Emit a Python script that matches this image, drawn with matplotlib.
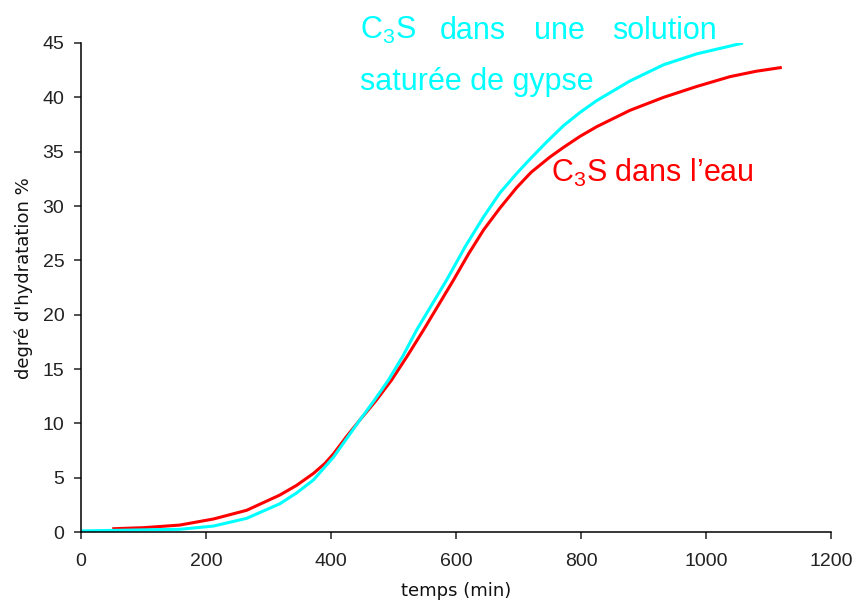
import matplotlib
matplotlib.use('Agg')
import matplotlib.pyplot as plt

plt.rcParams['font.family'] = ['Liberation Sans', 'DejaVu Sans']
plt.rcParams['mathtext.fontset'] = 'custom'
plt.rcParams['mathtext.rm'] = 'Liberation Sans'
plt.rcParams['mathtext.default'] = 'rm'

# degree of hydration (%) vs time (min)
t_eau = [50, 100, 158, 212, 265, 318, 345, 372, 390, 404, 425, 446, 472, 497, 522, 548, 572, 596,
         620, 644, 670, 697, 720, 750, 772, 798, 825, 878, 932, 985, 1038, 1080, 1121]
h_eau = [0.3, 0.4, 0.64, 1.2, 2.0, 3.4, 4.3, 5.4, 6.3, 7.2, 8.8, 10.3, 12.1, 14.0, 16.2, 18.6, 20.9, 23.2,
         25.6, 27.8, 29.8, 31.7, 33.1, 34.5, 35.4, 36.4, 37.3, 38.8, 40.0, 41.0, 41.9, 42.4, 42.75]

t_gypse = [0, 100, 158, 212, 265, 318, 345, 372, 404, 425, 446, 469, 492, 515, 537, 561, 585,
           615, 644, 670, 697, 718, 745, 772, 798, 825, 878, 932, 985, 1059]
h_gypse = [0.1, 0.2, 0.25, 0.55, 1.26, 2.6, 3.6, 4.8, 6.9, 8.6, 10.3, 12.1, 14.0, 16.2, 18.6, 20.9, 23.2,
           26.3, 29.0, 31.2, 33.0, 34.3, 35.9, 37.4, 38.6, 39.7, 41.5, 43.0, 44.0, 45.0]

x_ticks = [0, 200, 400, 600, 800, 1000, 1200]
y_ticks = [0, 5, 10, 15, 20, 25, 30, 35, 40, 45]

fig = plt.figure(figsize=(8.56, 6.03), dpi=100)
ax = fig.add_axes([0.0946, 0.1177, 0.8764, 0.811])

ax.plot(t_eau, h_eau, color='#ff0000', lw=2.2, solid_capstyle='butt', solid_joinstyle='round')
ax.plot(t_gypse, h_gypse, color='#00ffff', lw=2.2, solid_capstyle='butt', solid_joinstyle='round')

ax.set_xlim(0, 1200)
ax.set_ylim(0, 45)
ax.set_xticks(x_ticks)
ax.set_yticks(y_ticks)
ax.spines['top'].set_visible(False)
ax.spines['right'].set_visible(False)
for s in ('left', 'bottom'):
    ax.spines[s].set_linewidth(1.1)
ax.tick_params(axis='both', direction='out', length=5, width=1.1, labelsize=14, colors='#222222')
ax.tick_params(axis='x', pad=10)
ax.tick_params(axis='y', pad=7)

lab_font = dict(family='DejaVu Sans', fontsize=13, color='#111111')
ax.set_xlabel('temps (min)', labelpad=9, **lab_font)
ax.set_ylabel("degré d'hydratation %", **lab_font)
ax.yaxis.set_label_coords(-0.064, 0.52)

# labels for the two curves (top one spaced out like justified text)
cyan_words = [('C$_3$S', 447), ('dans', 574), ('une', 724), ('solution', 850)]
for w, xw in cyan_words:
    ax.text(xw, 45.35, w, color='#00ffff', fontsize=22, va='baseline', ha='left', clip_on=False)
ax.text(447, 40.7, 'saturée de gypse', color='#00ffff', fontsize=22, va='baseline', ha='left', clip_on=False)
ax.text(752, 32.2, 'C$_3$S dans l’eau', color='#ff0000', fontsize=22, va='baseline', ha='left', clip_on=False)

fig.savefig('out.png', dpi=100)
